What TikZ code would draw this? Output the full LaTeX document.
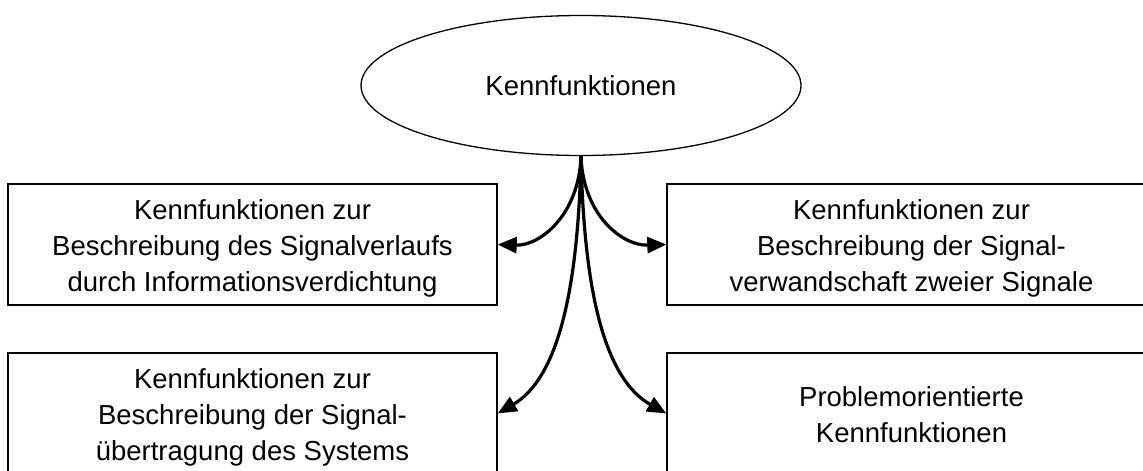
\documentclass[tikz,border=0pt]{standalone}
\usepackage{fontspec}
\setmainfont{Liberation Sans}
\usetikzlibrary{shapes.geometric,arrows.meta}
\begin{document}
\begin{tikzpicture}[x=1pt,y=-1pt,
  every node/.style={font=\fontsize{27.5}{36}\selectfont, align=center},
  topic/.style={draw, line width=1.3pt, ellipse, minimum width=440pt, minimum height=140pt, inner sep=0pt},
  group/.style={draw, line width=1.4pt, rectangle, minimum width=489pt, minimum height=121pt, inner sep=0pt},
  label/.style={inner sep=0pt},
  branch/.style={line width=3.2pt, -{Triangle[length=19pt,width=16pt]}}]
\useasboundingbox[fill=white] (0,0) rectangle (1143,471);
\clip (0,0) rectangle (1143,471);

% central term
\node[topic] (k) at (581,85.5) {Kennfunktionen};
\coordinate (s) at (k.south);

% the four groups (frames and their texts)
\node[group] (tl) at (252.5,244.5) {};
\node[group] (tr) at (911.5,244.5) {};
\node[group] (bl) at (252.5,413.5) {};
\node[group] (br) at (911.5,413.5) {};
\node[label] (tlt) at ([yshift=-4pt]tl.center) {Kennfunktionen zur\\Beschreibung des Signalverlaufs\\durch Informationsverdichtung};
\node[label] (trt) at ([yshift=-4pt]tr.center) {Kennfunktionen zur\\Beschreibung der Signal-\\verwandschaft zweier Signale};
\node[label] (blt) at ([yshift=-4pt]bl.center) {Kennfunktionen zur\\Beschreibung der Signal-\\übertragung des Systems};
\node[label] (brt) at ([yshift=-1pt]br.center) {Problemorientierte\\Kennfunktionen};

% branches from the central term
\draw[branch] (s) .. controls (579,215) and (540,246) .. (tl.east);
\draw[branch] (s) .. controls (583,215) and (622,246) .. (tr.west);
\draw[branch] (s) .. controls (578,300) and (555,380) .. (bl.east);
\draw[branch] (s) .. controls (584,300) and (607,380) .. (br.west);
\end{tikzpicture}
\end{document}
